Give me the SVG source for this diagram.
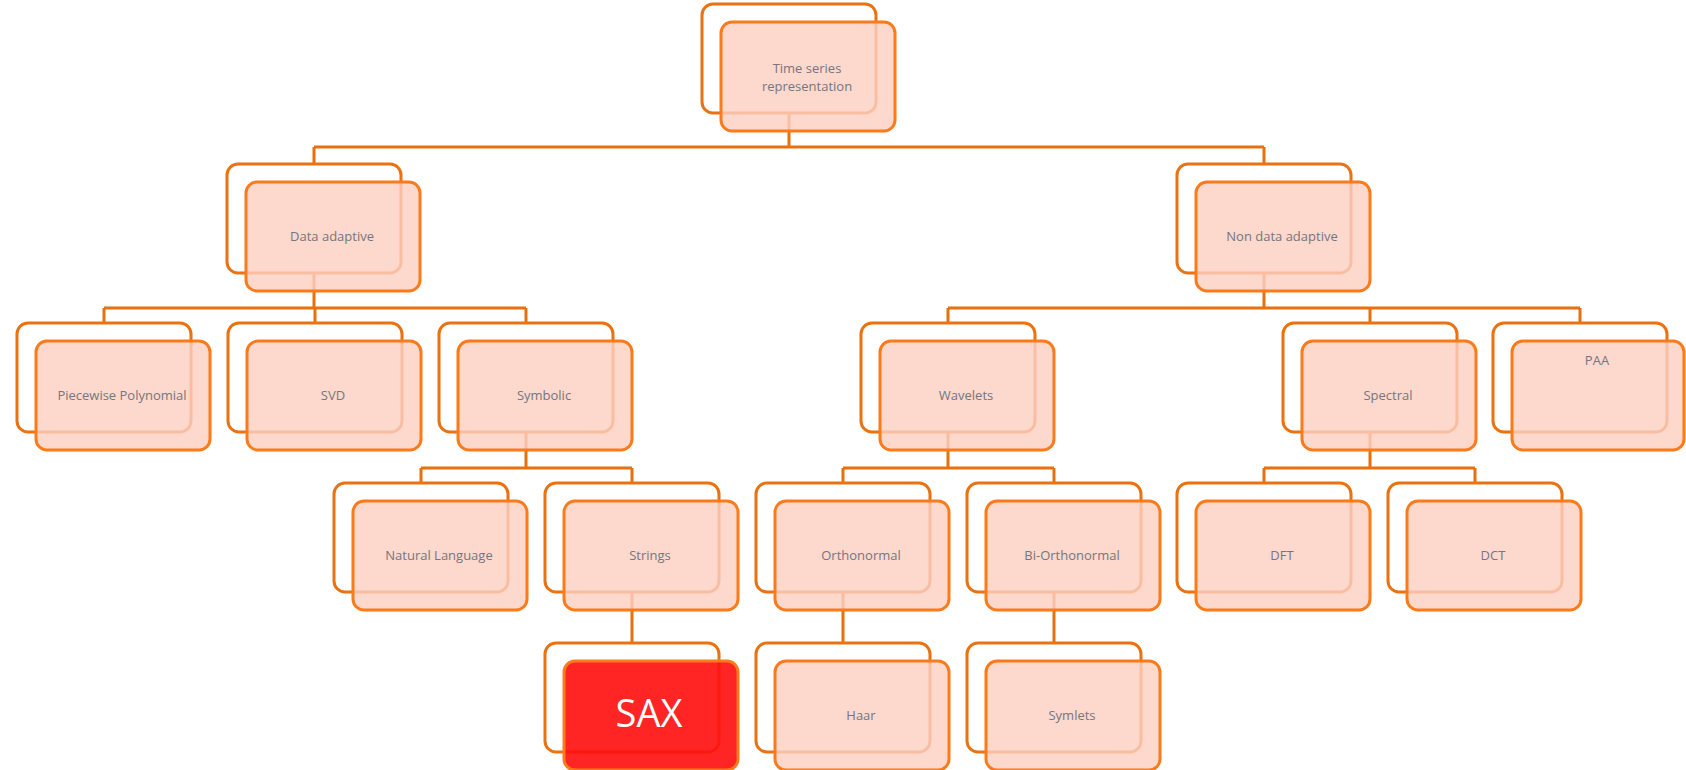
<svg xmlns="http://www.w3.org/2000/svg" width="1686" height="770" viewBox="0 0 1686 770">
<style>
.bk{fill:#ffffff;stroke:#ea7212;stroke-width:3}
.fr{fill:#fdd0c2;fill-opacity:0.82;stroke:#fb7b1b;stroke-width:3}
.sax{fill:#ff0d0d;fill-opacity:0.9;stroke:#fb7b1b;stroke-width:3}
.t{font-family:"Open Sans","Noto Sans","DejaVu Sans",sans-serif;font-size:13px;fill:#76767e;text-anchor:middle}
.ts{font-family:"Open Sans","Noto Sans","DejaVu Sans",sans-serif;font-size:38px;fill:#ffffff;text-anchor:middle}
.c{fill:none;stroke:#e8700f;stroke-width:3}
</style>
<rect width="1686" height="770" fill="#ffffff"/>
<g id="connectors">
<path class="c" d="M789 60V147M314 147H1264M314 147V164M1264 147V164"/>
<path class="c" d="M314 220V308M104 308H526M104 308V323M315 308V323M526 308V323"/>
<path class="c" d="M1264 220V308M948 308H1580M948 308V323M1370 308V323M1580 308V323"/>
<path class="c" d="M526 380V468M421 468H632M421 468V483M632 468V483"/>
<path class="c" d="M948 380V468M843 468H1054M843 468V483M1054 468V483"/>
<path class="c" d="M1370 380V468M1264 468H1475M1264 468V483M1475 468V483"/>
<path class="c" d="M632 540V643M843 540V643M1054 540V643"/>
</g>
<g id="n-time-series">
<rect class="bk" x="702" y="4" width="174" height="109" rx="11"/>
<rect class="fr" x="721" y="22" width="174" height="109" rx="11"/>
<text class="t" x="807" y="73">Time series</text>
<text class="t" x="807" y="91">representation</text>
</g>
<g id="n-data-adaptive">
<rect class="bk" x="227" y="164" width="174" height="109" rx="11"/>
<rect class="fr" x="246" y="182" width="174" height="109" rx="11"/>
<text class="t" x="332" y="241">Data adaptive</text>
</g>
<g id="n-non-data-adaptive">
<rect class="bk" x="1177" y="164" width="174" height="109" rx="11"/>
<rect class="fr" x="1196" y="182" width="174" height="109" rx="11"/>
<text class="t" x="1282" y="241">Non data adaptive</text>
</g>
<g id="n-piecewise">
<rect class="bk" x="17" y="323" width="174" height="109" rx="11"/>
<rect class="fr" x="36" y="341" width="174" height="109" rx="11"/>
<text class="t" x="122" y="400">Piecewise Polynomial</text>
</g>
<g id="n-svd">
<rect class="bk" x="228" y="323" width="174" height="109" rx="11"/>
<rect class="fr" x="247" y="341" width="174" height="109" rx="11"/>
<text class="t" x="333" y="400">SVD</text>
</g>
<g id="n-symbolic">
<rect class="bk" x="439" y="323" width="174" height="109" rx="11"/>
<rect class="fr" x="458" y="341" width="174" height="109" rx="11"/>
<text class="t" x="544" y="400">Symbolic</text>
</g>
<g id="n-wavelets">
<rect class="bk" x="861" y="323" width="174" height="109" rx="11"/>
<rect class="fr" x="880" y="341" width="174" height="109" rx="11"/>
<text class="t" x="966" y="400">Wavelets</text>
</g>
<g id="n-spectral">
<rect class="bk" x="1283" y="323" width="174" height="109" rx="11"/>
<rect class="fr" x="1302" y="341" width="174" height="109" rx="11"/>
<text class="t" x="1388" y="400">Spectral</text>
</g>
<g id="n-paa">
<rect class="bk" x="1493" y="323" width="174" height="109" rx="11"/>
<rect class="fr" x="1512" y="341" width="172" height="109" rx="11"/>
<text class="t" x="1597" y="365">PAA</text>
</g>
<g id="n-natural-language">
<rect class="bk" x="334" y="483" width="174" height="109" rx="11"/>
<rect class="fr" x="353" y="501" width="174" height="109" rx="11"/>
<text class="t" x="439" y="560">Natural Language</text>
</g>
<g id="n-strings">
<rect class="bk" x="545" y="483" width="174" height="109" rx="11"/>
<rect class="fr" x="564" y="501" width="174" height="109" rx="11"/>
<text class="t" x="650" y="560">Strings</text>
</g>
<g id="n-orthonormal">
<rect class="bk" x="756" y="483" width="174" height="109" rx="11"/>
<rect class="fr" x="775" y="501" width="174" height="109" rx="11"/>
<text class="t" x="861" y="560">Orthonormal</text>
</g>
<g id="n-bi-orthonormal">
<rect class="bk" x="967" y="483" width="174" height="109" rx="11"/>
<rect class="fr" x="986" y="501" width="174" height="109" rx="11"/>
<text class="t" x="1072" y="560">Bi-Orthonormal</text>
</g>
<g id="n-dft">
<rect class="bk" x="1177" y="483" width="174" height="109" rx="11"/>
<rect class="fr" x="1196" y="501" width="174" height="109" rx="11"/>
<text class="t" x="1282" y="560">DFT</text>
</g>
<g id="n-dct">
<rect class="bk" x="1388" y="483" width="174" height="109" rx="11"/>
<rect class="fr" x="1407" y="501" width="174" height="109" rx="11"/>
<text class="t" x="1493" y="560">DCT</text>
</g>
<g id="n-sax">
<rect class="bk" x="545" y="643" width="174" height="109" rx="11"/>
<rect class="sax" x="564" y="661" width="174" height="109" rx="11"/>
<text class="ts" x="649" y="727">SAX</text>
</g>
<g id="n-haar">
<rect class="bk" x="756" y="643" width="174" height="109" rx="11"/>
<rect class="fr" x="775" y="661" width="174" height="109" rx="11"/>
<text class="t" x="861" y="720">Haar</text>
</g>
<g id="n-symlets">
<rect class="bk" x="967" y="643" width="174" height="109" rx="11"/>
<rect class="fr" x="986" y="661" width="174" height="109" rx="11"/>
<text class="t" x="1072" y="720">Symlets</text>
</g>
</svg>
